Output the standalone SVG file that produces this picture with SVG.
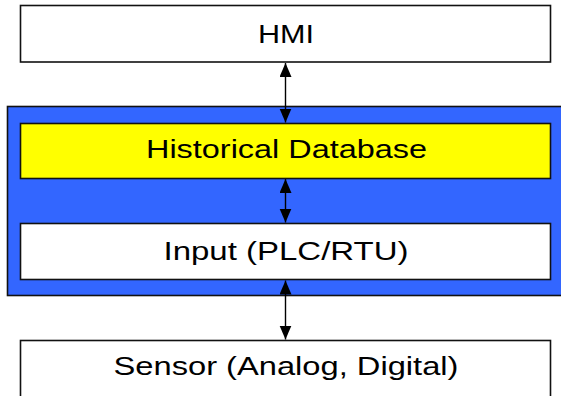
<svg xmlns="http://www.w3.org/2000/svg" width="561" height="396" viewBox="0 0 561 396">
<style>
.box{stroke:#111;stroke-width:1.6}
.lbl{font-family:"Liberation Sans",Arial,sans-serif;font-size:26px;fill:#000;text-anchor:middle}
.conn{stroke:#000;stroke-width:1.4;fill:none}
</style>
<defs>
<marker id="ah" markerUnits="userSpaceOnUse" markerWidth="15" markerHeight="13" refX="14" refY="6" orient="auto-start-reverse" viewBox="0 0 15 13">
<path d="M0,0 L14,6 L0,12 Z" fill="#000"/>
</marker>
</defs>
<rect x="0" y="0" width="561" height="396" fill="#fff"/>
<g id="hmi">
<rect class="box" x="20.5" y="5.5" width="530" height="56.5" fill="#fff"/>
<text class="lbl" x="286" y="42.5" textLength="56" lengthAdjust="spacingAndGlyphs">HMI</text>
</g>
<g id="container">
<rect class="box" x="7.5" y="106.5" width="560" height="189" fill="#3366FF"/>
</g>
<g id="historical-db">
<rect class="box" x="20.5" y="123.5" width="530" height="55" fill="#FFFF00"/>
<text class="lbl" x="286.5" y="158" textLength="281" lengthAdjust="spacingAndGlyphs">Historical Database</text>
</g>
<g id="input">
<rect class="box" x="20.5" y="223.5" width="530" height="56" fill="#fff"/>
<text class="lbl" x="286" y="259.5" textLength="245" lengthAdjust="spacingAndGlyphs">Input (PLC/RTU)</text>
</g>
<g id="sensor">
<rect class="box" x="20.5" y="340.5" width="530" height="60" fill="#fff"/>
<text class="lbl" x="286" y="374.5" textLength="345" lengthAdjust="spacingAndGlyphs">Sensor (Analog, Digital)</text>
</g>
<g id="connectors">
<line class="conn" x1="285.5" y1="63" x2="285.5" y2="122.5" marker-start="url(#ah)" marker-end="url(#ah)"/>
<line class="conn" x1="285.5" y1="179" x2="285.5" y2="222.5" marker-start="url(#ah)" marker-end="url(#ah)"/>
<line class="conn" x1="285.5" y1="280.5" x2="285.5" y2="339.5" marker-start="url(#ah)" marker-end="url(#ah)"/>
</g>
</svg>
